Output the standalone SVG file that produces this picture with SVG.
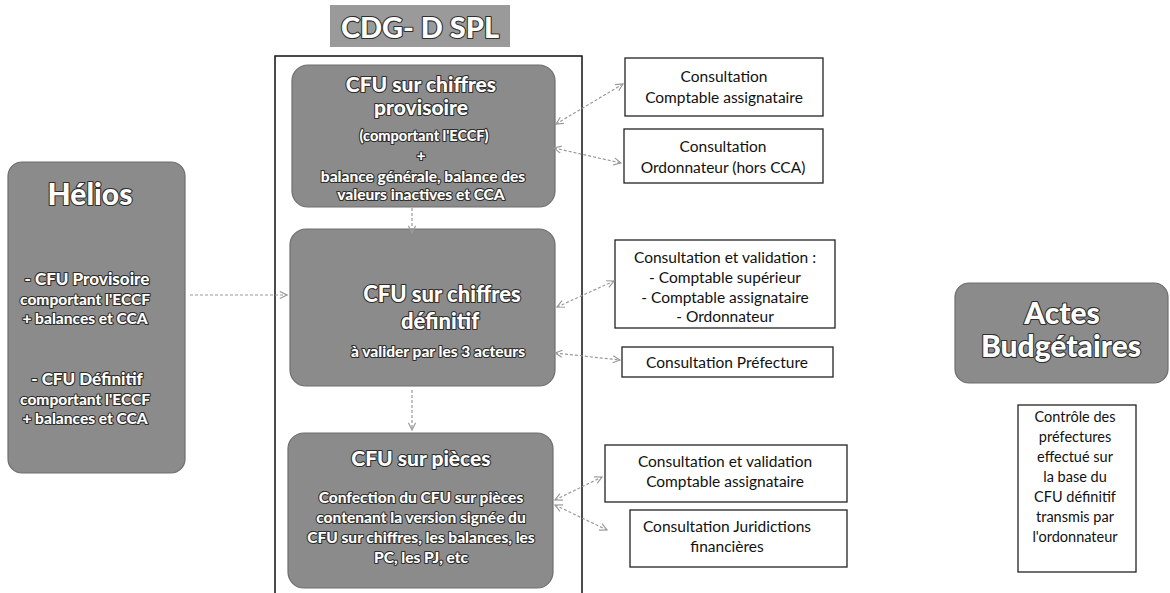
<svg xmlns="http://www.w3.org/2000/svg" width="1170" height="593" viewBox="0 0 1170 593">
<style>
.node{fill:#8b8b8b;stroke:#6e6e6e;stroke-width:1.2}
.wt{font-family:Lato,"Open Sans","Liberation Sans",sans-serif;font-weight:900;fill:#fff;stroke:#2e2e2e;stroke-width:2.2;stroke-linejoin:round;paint-order:stroke;text-anchor:middle}
.box{fill:#fff;stroke:#222;stroke-width:1.3}
.bt{font-family:Lato,"Open Sans","Liberation Sans",sans-serif;font-size:15.5px;fill:#111;text-anchor:middle}
.ct{font-size:14.5px}
.con{fill:none;stroke:#9a9a9a;stroke-width:1.2;stroke-dasharray:3 2}
</style>
<defs>
<marker id="ah" viewBox="0 0 10 10" refX="9" refY="5" markerWidth="9" markerHeight="9" orient="auto-start-reverse" markerUnits="userSpaceOnUse">
<path d="M1,1 L9,5 L1,9" fill="none" stroke="#9a9a9a" stroke-width="1.3"/>
</marker>
</defs>

<g id="title">
<rect x="330" y="5" width="180" height="42" fill="#9a9a9a"/>
<text class="wt" x="420" y="38" font-size="29">CDG- D SPL</text>
</g>

<g id="container">
<rect x="275" y="56" width="307" height="560" fill="none" stroke="#111" stroke-width="1.5"/>
</g>

<g id="helios">
<rect class="node" x="8" y="162" width="177" height="311" rx="14"/>
<text class="wt" x="90" y="205" font-size="30">Hélios</text>
<text class="wt" x="87" y="285" font-size="17">- CFU Provisoire</text>
<text class="wt" x="85" y="305" font-size="15.5">comportant l'ECCF</text>
<text class="wt" x="85" y="324" font-size="15.5">+ balances et CCA</text>
<text class="wt" x="87" y="385" font-size="17">- CFU Définitif</text>
<text class="wt" x="85" y="405" font-size="15.5">comportant l'ECCF</text>
<text class="wt" x="85" y="424" font-size="15.5">+ balances et CCA</text>
</g>

<g id="cfu-provisoire">
<rect class="node" x="292" y="65" width="263" height="142" rx="16"/>
<text class="wt" x="421" y="92" font-size="21">CFU sur chiffres</text>
<text class="wt" x="421" y="115" font-size="21">provisoire</text>
<text class="wt" x="424" y="141" font-size="14.5">(comportant l'ECCF)</text>
<text class="wt" x="421" y="161" font-size="15">+</text>
<text class="wt" x="423" y="182" font-size="15.5">balance générale, balance des</text>
<text class="wt" x="421" y="200" font-size="15.5">valeurs inactives et CCA</text>
</g>

<g id="cfu-definitif">
<rect class="node" x="290" y="229" width="265" height="157" rx="16"/>
<text class="wt" x="442" y="302" font-size="22">CFU sur chiffres</text>
<text class="wt" x="440" y="329" font-size="22">définitif</text>
<text class="wt" x="438" y="357" font-size="15.5">à valider par les 3 acteurs</text>
</g>

<g id="cfu-pieces">
<rect class="node" x="288" y="433" width="265" height="155" rx="16"/>
<text class="wt" x="421" y="466" font-size="21">CFU sur pièces</text>
<text class="wt" x="421" y="503" font-size="15.5">Confection du CFU sur pièces</text>
<text class="wt" x="421" y="523" font-size="15.5">contenant la version signée du</text>
<text class="wt" x="421" y="543" font-size="15.5">CFU sur chiffres, les balances, les</text>
<text class="wt" x="421" y="563" font-size="15.5">PC, les PJ, etc</text>
</g>

<g id="actes">
<rect class="node" x="955" y="283" width="213" height="100" rx="14"/>
<text class="wt" x="1062" y="324" font-size="30">Actes</text>
<text class="wt" x="1061" y="357" font-size="30">Budgétaires</text>
</g>

<g id="controle">
<rect class="box" x="1018" y="405" width="118" height="167"/>
<text class="bt ct" x="1075" y="422">Contrôle des</text>
<text class="bt ct" x="1075" y="442">préfectures</text>
<text class="bt ct" x="1075" y="462">effectué sur</text>
<text class="bt ct" x="1075" y="482">la base du</text>
<text class="bt ct" x="1075" y="502">CFU définitif</text>
<text class="bt ct" x="1075" y="522">transmis par</text>
<text class="bt ct" x="1075" y="542">l'ordonnateur</text>
</g>

<g id="consult-comptable">
<rect class="box" x="625" y="58" width="198" height="58"/>
<text class="bt" x="724" y="82">Consultation</text>
<text class="bt" x="724" y="103">Comptable assignataire</text>
</g>

<g id="consult-ordonnateur">
<rect class="box" x="624" y="129" width="199" height="54"/>
<text class="bt" x="723" y="152">Consultation</text>
<text class="bt" x="723" y="173">Ordonnateur (hors CCA)</text>
</g>

<g id="consult-validation">
<rect class="box" x="615" y="240" width="220" height="88"/>
<text class="bt" x="725" y="263">Consultation et validation :</text>
<text class="bt" x="725" y="283">- Comptable supérieur</text>
<text class="bt" x="725" y="303">- Comptable assignataire</text>
<text class="bt" x="725" y="322">- Ordonnateur</text>
</g>

<g id="consult-prefecture">
<rect class="box" x="622" y="347" width="211" height="30"/>
<text class="bt" x="727" y="368">Consultation Préfecture</text>
</g>

<g id="consult-validation-ca">
<rect class="box" x="605" y="445" width="242" height="57"/>
<text class="bt" x="725" y="467">Consultation et validation</text>
<text class="bt" x="725" y="487">Comptable assignataire</text>
</g>

<g id="consult-juridictions">
<rect class="box" x="630" y="510" width="217" height="57"/>
<text class="bt" x="727" y="532">Consultation Juridictions</text>
<text class="bt" x="727" y="552">financières</text>
</g>

<g id="connectors">
<line class="con" x1="190" y1="295" x2="287" y2="295" marker-end="url(#ah)"/>
<line class="con" x1="412" y1="208" x2="412" y2="233" marker-end="url(#ah)"/>
<line class="con" x1="412" y1="390" x2="412" y2="430" marker-end="url(#ah)"/>
<line class="con" x1="556" y1="124" x2="623" y2="84" marker-start="url(#ah)" marker-end="url(#ah)"/>
<line class="con" x1="554" y1="148" x2="621" y2="163" marker-start="url(#ah)" marker-end="url(#ah)"/>
<line class="con" x1="557" y1="307" x2="614" y2="281" marker-start="url(#ah)" marker-end="url(#ah)"/>
<line class="con" x1="555" y1="353" x2="620" y2="360" marker-start="url(#ah)" marker-end="url(#ah)"/>
<line class="con" x1="555" y1="500" x2="602" y2="477" marker-start="url(#ah)" marker-end="url(#ah)"/>
<line class="con" x1="555" y1="505" x2="607" y2="530" marker-start="url(#ah)" marker-end="url(#ah)"/>
</g>
</svg>
